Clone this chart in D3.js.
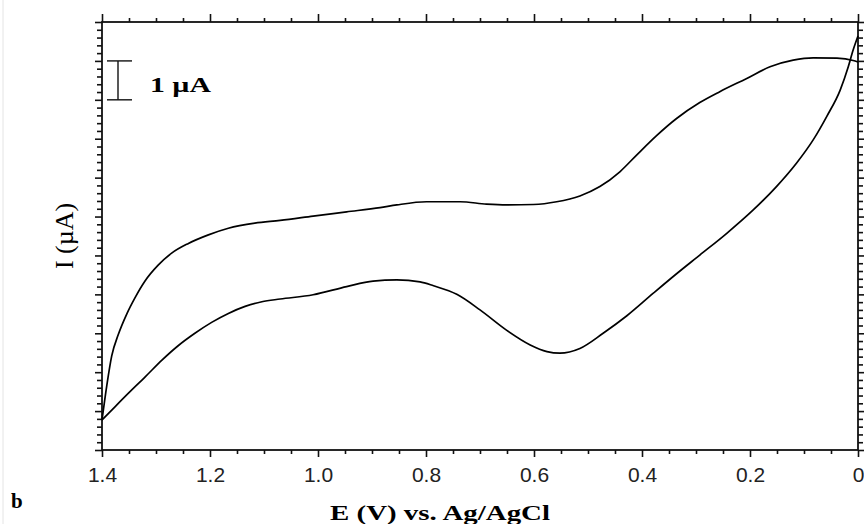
<!DOCTYPE html>
<html>
<head>
<meta charset="utf-8">
<script src="https://cdn.jsdelivr.net/npm/d3@7"></script>
<style>
body{margin:0;background:#fff;}
svg{display:block;}
</style>
</head>
<body>
<div class="cv-container"></div>
<script>
// Data (E in V vs Ag/AgCl, I in µA above the bottom of the frame)
const xTicks = [1.4, 1.2, 1.0, 0.8, 0.6, 0.4, 0.2, 0];
const xTickLabels = ['1.4', '1.2', '1.0', '0.8', '0.6', '0.4', '0.2', '0'];

// upper branch
const upperE = [1.400, 1.391, 1.382, 1.370, 1.354, 1.339, 1.320, 1.296, 1.271, 1.240, 1.203, 1.166,
  1.117, 1.070, 1.009, 0.947, 0.885, 0.854, 0.799, 0.737, 0.688, 0.651, 0.601, 0.558, 0.515,
  0.478, 0.441, 0.410, 0.373, 0.336, 0.293, 0.256, 0.206, 0.163, 0.120, 0.083, 0.039, 0.009, 0];
const upperI = [0.77, 1.67, 2.42, 2.96, 3.50, 3.91, 4.35, 4.75, 5.06, 5.31, 5.53, 5.70,
  5.83, 5.90, 6.01, 6.12, 6.23, 6.30, 6.38, 6.38, 6.32, 6.30, 6.31, 6.38, 6.53,
  6.77, 7.15, 7.58, 8.08, 8.52, 8.93, 9.21, 9.55, 9.85, 10.02, 10.08, 10.07, 10.01, 9.97];

// lower branch
const lowerE = [1.400, 1.376, 1.351, 1.320, 1.289, 1.259, 1.228, 1.197, 1.166, 1.135, 1.104, 1.070,
  1.009, 0.947, 0.898, 0.854, 0.811, 0.786, 0.743, 0.700, 0.651, 0.607, 0.576, 0.552, 0.515,
  0.472, 0.428, 0.379, 0.336, 0.293, 0.243, 0.194, 0.151, 0.114, 0.083, 0.058, 0.033, 0.018, 0.009, 0];
const lowerI = [0.77, 1.11, 1.46, 1.88, 2.31, 2.68, 3.00, 3.28, 3.51, 3.69, 3.81, 3.88,
  3.99, 4.20, 4.34, 4.37, 4.32, 4.22, 4.00, 3.60, 3.08, 2.70, 2.53, 2.49, 2.61,
  3.00, 3.45, 4.03, 4.53, 5.01, 5.57, 6.17, 6.77, 7.37, 7.97, 8.57, 9.25, 9.85, 10.28, 10.64];

const svg_width = 864;
const svg_height = 524;
const frame = {left: 102, right: 858, top: 22, bottom: 450};

const svg = d3.select('.cv-container').append('svg')
  .attr('width', svg_width).attr('height', svg_height);

const xScale = d3.scaleLinear().domain([1.4, 0]).range([frame.left, frame.right]);
const yScale = d3.scaleLinear().domain([0, 11]).range([frame.bottom, frame.top]);

const xMinor = d3.range(0, 1.4001, 0.05).filter(v => Math.abs(v * 5 - Math.round(v * 5)) > 1e-6);
const yMajor = d3.range(0, 11.001, 1);
const yMinor = d3.range(0, 11.001, 0.2).filter(v => Math.abs(v - Math.round(v)) > 1e-6);

function styleAxis(g){
  g.select('.domain').remove();
  g.selectAll('line').attr('stroke', '#111').attr('stroke-width', 1.6);
}

// faint image border at far left
svg.append('line').attr('x1', 3).attr('x2', 3).attr('y1', 0).attr('y2', svg_height)
  .attr('stroke', '#e4e4e4').attr('stroke-width', 1);

// minor ticks
svg.append('g').attr('transform', `translate(0,${frame.bottom})`)
  .call(d3.axisBottom(xScale).tickValues(xMinor).tickSize(4).tickFormat(''))
  .call(styleAxis);
svg.append('g').attr('transform', `translate(0,${frame.top})`)
  .call(d3.axisTop(xScale).tickValues(xMinor).tickSize(4).tickFormat(''))
  .call(styleAxis);
svg.append('g').attr('transform', `translate(${frame.left},0)`)
  .call(d3.axisLeft(yScale).tickValues(yMinor).tickSize(5).tickFormat(''))
  .call(styleAxis);
svg.append('g').attr('transform', `translate(${frame.right},0)`)
  .call(d3.axisRight(yScale).tickValues(yMinor).tickSize(5).tickFormat(''))
  .call(styleAxis);

// major ticks
const xAxisDraw = svg.append('g').attr('class', 'x axis')
  .attr('transform', `translate(0,${frame.bottom})`)
  .call(d3.axisBottom(xScale).tickValues(xTicks).tickSize(7)
    .tickFormat((d, i) => xTickLabels[i]))
  .call(styleAxis);
xAxisDraw.selectAll('text')
  .attr('y', 32).attr('dy', 0)
  .style('font-family', '"Liberation Sans", Arial, sans-serif')
  .style('font-size', '21px')
  .attr('fill', '#222');

svg.append('g').attr('transform', `translate(0,${frame.top})`)
  .call(d3.axisTop(xScale).tickValues(xTicks).tickSize(8).tickFormat(''))
  .call(styleAxis);
svg.append('g').attr('transform', `translate(${frame.left},0)`)
  .call(d3.axisLeft(yScale).tickValues(yMajor).tickSize(7).tickFormat(''))
  .call(styleAxis);
svg.append('g').attr('transform', `translate(${frame.right},0)`)
  .call(d3.axisRight(yScale).tickValues(yMajor).tickSize(7).tickFormat(''))
  .call(styleAxis);

// frame
svg.append('rect')
  .attr('x', frame.left).attr('y', frame.top)
  .attr('width', frame.right - frame.left).attr('height', frame.bottom - frame.top)
  .attr('fill', 'none').attr('stroke', '#111').attr('stroke-width', 1.8);

// curves
const line = d3.line()
  .x(d => xScale(d[0]))
  .y(d => yScale(d[1]))
  .curve(d3.curveMonotoneX);

const branches = [d3.zip(upperE, upperI), d3.zip(lowerE, lowerI)];
svg.append('g').selectAll('path').data(branches).join('path')
  .attr('d', line)
  .attr('fill', 'none')
  .attr('stroke', '#000')
  .attr('stroke-width', 1.7);

// scale bar 1 µA
const barX = 118;
const barG = svg.append('g').attr('stroke', '#111').attr('stroke-width', 1.4);
barG.append('line').attr('x1', barX).attr('x2', barX).attr('y1', yScale(10)).attr('y2', yScale(9));
barG.append('line').attr('x1', barX - 11).attr('x2', barX + 14).attr('y1', yScale(10)).attr('y2', yScale(10));
barG.append('line').attr('x1', barX - 11).attr('x2', barX + 14).attr('y1', yScale(9)).attr('y2', yScale(9));

svg.append('text').text('1 µA')
  .attr('x', 150).attr('y', 92)
  .attr('textLength', 61).attr('lengthAdjust', 'spacingAndGlyphs')
  .style('font-family', '"Liberation Serif", "Times New Roman", serif')
  .style('font-weight', 'bold').style('font-size', '21px');

// axis titles
svg.append('text').text('E (V) vs. Ag/AgCl')
  .attr('x', 330).attr('y', 520)
  .attr('textLength', 220).attr('lengthAdjust', 'spacingAndGlyphs')
  .style('font-family', '"Liberation Serif", "Times New Roman", serif')
  .style('font-weight', 'bold').style('font-size', '20px');

svg.append('text').text('I (µA)')
  .attr('transform', `translate(73,${(frame.top + frame.bottom) / 2}) rotate(-90)`)
  .attr('text-anchor', 'middle')
  .style('font-family', '"Liberation Serif", "Times New Roman", serif')
  .style('font-size', '26px');

svg.append('text').text('b')
  .attr('x', 11).attr('y', 508)
  .style('font-family', '"Liberation Serif", "Times New Roman", serif')
  .style('font-weight', 'bold').style('font-size', '21px');
</script>
</body>
</html>
